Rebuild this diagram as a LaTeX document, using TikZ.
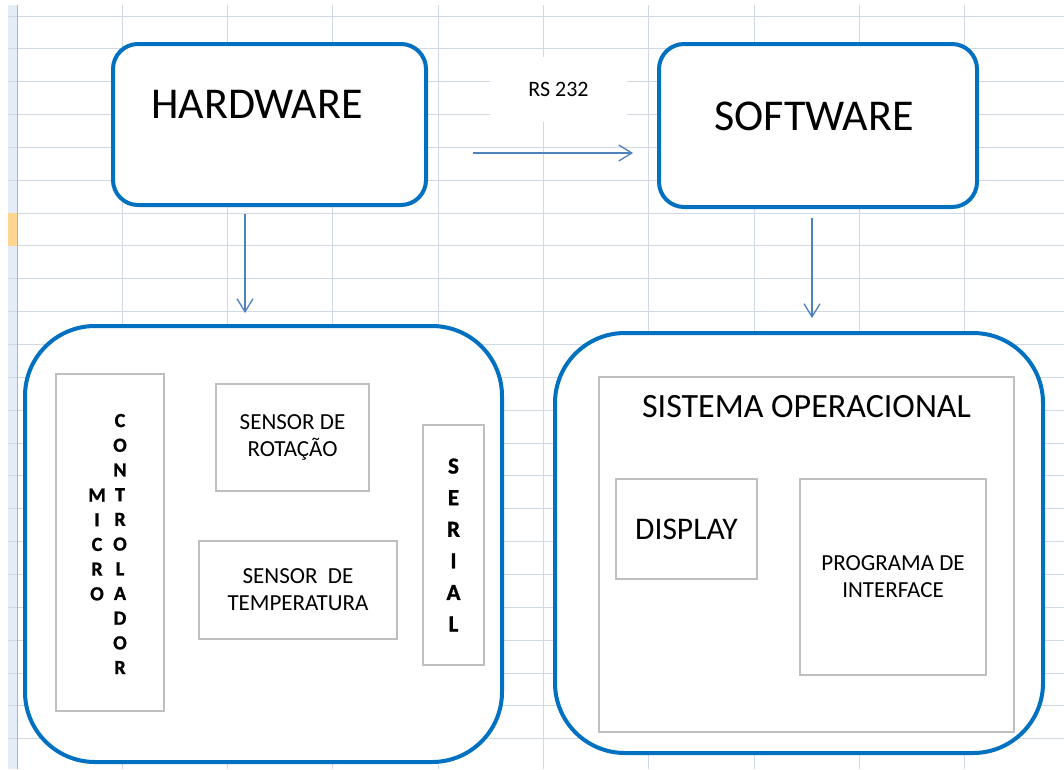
\documentclass[tikz,border=0pt]{standalone}
\usepackage{fontspec}
\setmainfont{Carlito}[BoldFont={Carlito Bold}]
\newfontfamily\letterfont{Carlito Bold}[FakeBold=1.2]
\usetikzlibrary{arrows.meta}

\definecolor{shapeblue}{HTML}{0070C0}
\definecolor{linkblue}{HTML}{4F81BD}
\definecolor{cellgrid}{HTML}{D0D7E5}
\definecolor{partgray}{HTML}{BFBFBF}
\definecolor{headerblue}{HTML}{E4ECF7}
\definecolor{headerline}{HTML}{9EB6CE}
\definecolor{cellorange}{HTML}{FFD591}

\begin{document}
\begin{tikzpicture}[
    x=1pt, y=-1pt,
    topbox/.style={draw=shapeblue, line width=4pt, fill=white,
                   rounded corners=25pt, inner sep=0pt},
    groupbox/.style={draw=shapeblue, line width=4pt, fill=white,
                     rounded corners=70pt, inner sep=0pt},
    part/.style={draw=partgray, line width=1.5pt, fill=white,
                 inner sep=0pt, align=center},
    bigtext/.style={font=\fontsize{44}{53}\selectfont},
    parttext/.style={font=\fontsize{23}{27}\selectfont},
    lettertext/.style={font=\letterfont\fontsize{20}{24.7}\selectfont, align=center},
    serialtext/.style={font=\letterfont\fontsize{23}{31.6}\selectfont},
    link/.style={draw=linkblue, line width=1.3pt},
    >={Straight Barb[length=13pt,width=16pt]}
]
\useasboundingbox (0,0) rectangle (1064,769);

% spreadsheet grid
\def\colgap{105.3}
\def\rowgap{32.85}
\fill[headerblue] (8,5) rectangle (17,769);
\foreach \i in {0,...,9}
  \draw[cellgrid, line width=1pt] ({17+\i*\colgap},5) -- ({17+\i*\colgap},769);
\foreach \j in {0,...,22}
  \draw[cellgrid, line width=1pt] (8,{16+\j*\rowgap}) -- (1064,{16+\j*\rowgap});
\fill[cellorange] (8,{16+6*\rowgap}) rectangle (17,{16+7*\rowgap});
\draw[headerline, line width=1pt] (17,5) -- (17,769);

% --- TOP BOXES ---
\node[topbox, minimum width=313pt, minimum height=161pt] (hw) at (269.5,124.5) {};
\node[bigtext] (hwlabel) at (257,104) {HARDWARE};

\node[topbox, minimum width=318pt, minimum height=163pt] (sw) at (818,125.5) {};
\node[bigtext] (swlabel) at (814,116) {SOFTWARE};

\node[fill=white, minimum width=137pt, minimum height=65pt,
      font=\fontsize{22}{26}\selectfont] (rs) at (558.5,89.5) {RS 232};

% --- ARROWS ---
\coordinate (rsA) at (473,153);
\coordinate (rsB) at (633,153);
\coordinate (hwA) at (245,214);
\coordinate (hwB) at (245,313);
\coordinate (swA) at (812,218);
\coordinate (swB) at (812,318);
\draw[link,->] (rsA) -- (rsB);
\draw[link,->] (hwA) -- (hwB);
\draw[link,->] (swA) -- (swB);

% --- HARDWARE GROUP ---
\node[groupbox, minimum width=477pt, minimum height=436pt] (hwgroup) at (263.5,544) {};
\node[part, minimum width=108pt, minimum height=337pt] (micro) at (110,542.5) {};
\node[lettertext] (microA) at (97,544.5) {M\\I\\C\\R\\O};
\node[lettertext] (microB) at (120,544) {C\\O\\N\\T\\R\\O\\L\\A\\D\\O\\R};
\node[part, parttext, minimum width=153pt, minimum height=107pt]
  (rot) at (292.5,437.5) {SENSOR DE\\ROTAÇÃO};
\node[part, parttext, minimum width=198pt, minimum height=98pt]
  (temp) at (298,590) {SENSOR \ DE\\TEMPERATURA};
\node[part, serialtext, minimum width=61pt, minimum height=240pt]
  (serial) at (453.5,545) {S\\E\\R\\I\\A\\L};

% --- SOFTWARE GROUP ---
\node[groupbox, minimum width=488pt, minimum height=420pt] (swgroup) at (799,543) {};
\node[part, minimum width=415pt, minimum height=355pt] (so) at (806.5,554.5) {};
\node[font=\fontsize{34}{40}\selectfont] (solabel)
  at ([yshift=-30pt]so.north) {SISTEMA OPERACIONAL};
\node[part, font=\fontsize{31.5}{38}\selectfont, minimum width=141pt, minimum height=100pt]
  (disp) at (686.5,529) {DISPLAY};
\node[part, parttext, minimum width=186pt, minimum height=196pt]
  (prog) at (893,577) {PROGRAMA DE\\INTERFACE};

\end{tikzpicture}
\end{document}
